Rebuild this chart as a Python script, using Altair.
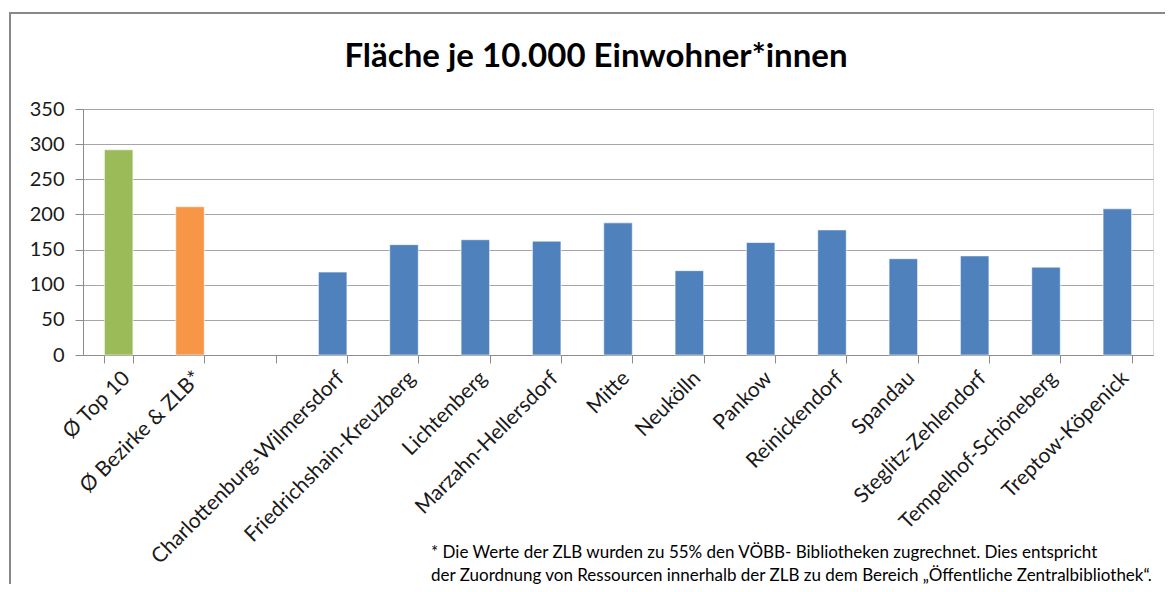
import altair as alt
import pandas as pd

categories = ["Ø Top 10", "Ø Bezirke & ZLB*", " ", "Charlottenburg-Wilmersdorf",
              "Friedrichshain-Kreuzberg", "Lichtenberg", "Marzahn-Hellersdorf", "Mitte",
              "Neukölln", "Pankow", "Reinickendorf", "Spandau", "Steglitz-Zehlendorf",
              "Tempelhof-Schöneberg", "Treptow-Köpenick"]
values = [292, 211, None, 118, 157, 164, 162, 188, 120, 160, 178, 137, 141, 125, 208]
bar_colors = ["#9BBB59", "#F79646", "#4F81BD", "#4F81BD", "#4F81BD", "#4F81BD", "#4F81BD",
              "#4F81BD", "#4F81BD", "#4F81BD", "#4F81BD", "#4F81BD", "#4F81BD", "#4F81BD",
              "#4F81BD"]
y_ticks = [0, 50, 100, 150, 200, 250, 300, 350]
title_text = "Fläche je 10.000 Einwohner*innen"
footnote = ["* Die Werte der ZLB wurden zu 55% den VÖBB- Bibliotheken zugrechnet. Dies entspricht",
            "der Zuordnung von Ressourcen innerhalb der ZLB zu dem Bereich „Öffentliche Zentralbibliothek“."]

FONT = "Lato"
W, H = 1070, 246

df = pd.DataFrame({"cat": categories, "val": values, "color": bar_colors})

bars = alt.Chart(df).mark_bar(stroke="#ffffff", strokeWidth=1, strokeOpacity=0.6).encode(
    x=alt.X("cat:N", sort=categories,
            scale=alt.Scale(domain=categories, paddingInner=0.6, paddingOuter=0.3),
            axis=alt.Axis(title=None, labelAngle=-45, labelFontSize=21, labelFont=FONT,
                          labelColor="#1a1a1a", tickBand="extent", tickSize=8,
                          tickColor="#8c8c8c", domainColor="#8c8c8c", grid=False,
                          labelPadding=4, labelLimit=400)),
    y=alt.Y("val:Q", scale=alt.Scale(domain=[0, 350], nice=False),
            axis=alt.Axis(title=None, values=y_ticks, grid=True, gridColor="#a6a6a6",
                          tickSize=8, tickColor="#8c8c8c", domainColor="#8c8c8c",
                          labelFontSize=20, labelFont=FONT, labelColor="#1a1a1a",
                          labelPadding=11)),
    color=alt.Color("color:N", scale=None),
)

title = alt.Chart(pd.DataFrame({"t": [title_text]})).mark_text(
    font=FONT, fontSize=33, fontWeight="bold", color="#000000",
    align="center", baseline="alphabetic").encode(
    text="t:N", x=alt.value(513), y=alt.value(-42))

note1 = alt.Chart(pd.DataFrame({"t": [footnote[0]]})).mark_text(
    font=FONT, fontSize=17, color="#000000", align="left", baseline="alphabetic").encode(
    text="t:N", x=alt.value(348), y=alt.value(449))
note2 = alt.Chart(pd.DataFrame({"t": [footnote[1]]})).mark_text(
    font=FONT, fontSize=17, color="#000000", align="left", baseline="alphabetic").encode(
    text="t:N", x=alt.value(348), y=alt.value(472))

border_left = alt.Chart(pd.DataFrame({"a": [0]})).mark_rule(color="#888888", strokeWidth=2).encode(
    x=alt.value(-73), y=alt.value(-96), y2=alt.value(H + 240))
border_top = alt.Chart(pd.DataFrame({"a": [0]})).mark_rule(color="#888888", strokeWidth=2).encode(
    y=alt.value(-96), x=alt.value(-74), x2=alt.value(W + 20))

chart = alt.layer(border_left, border_top, bars, title, note1, note2).properties(
    width=W, height=H,
    autosize=alt.AutoSizeParams(type="none"),
    padding={"left": 75, "top": 101, "right": 12, "bottom": 229},
).configure_view(stroke=None).configure(background="#ffffff")

chart.save("out.html", embed_options={"renderer": "svg", "actions": False})
